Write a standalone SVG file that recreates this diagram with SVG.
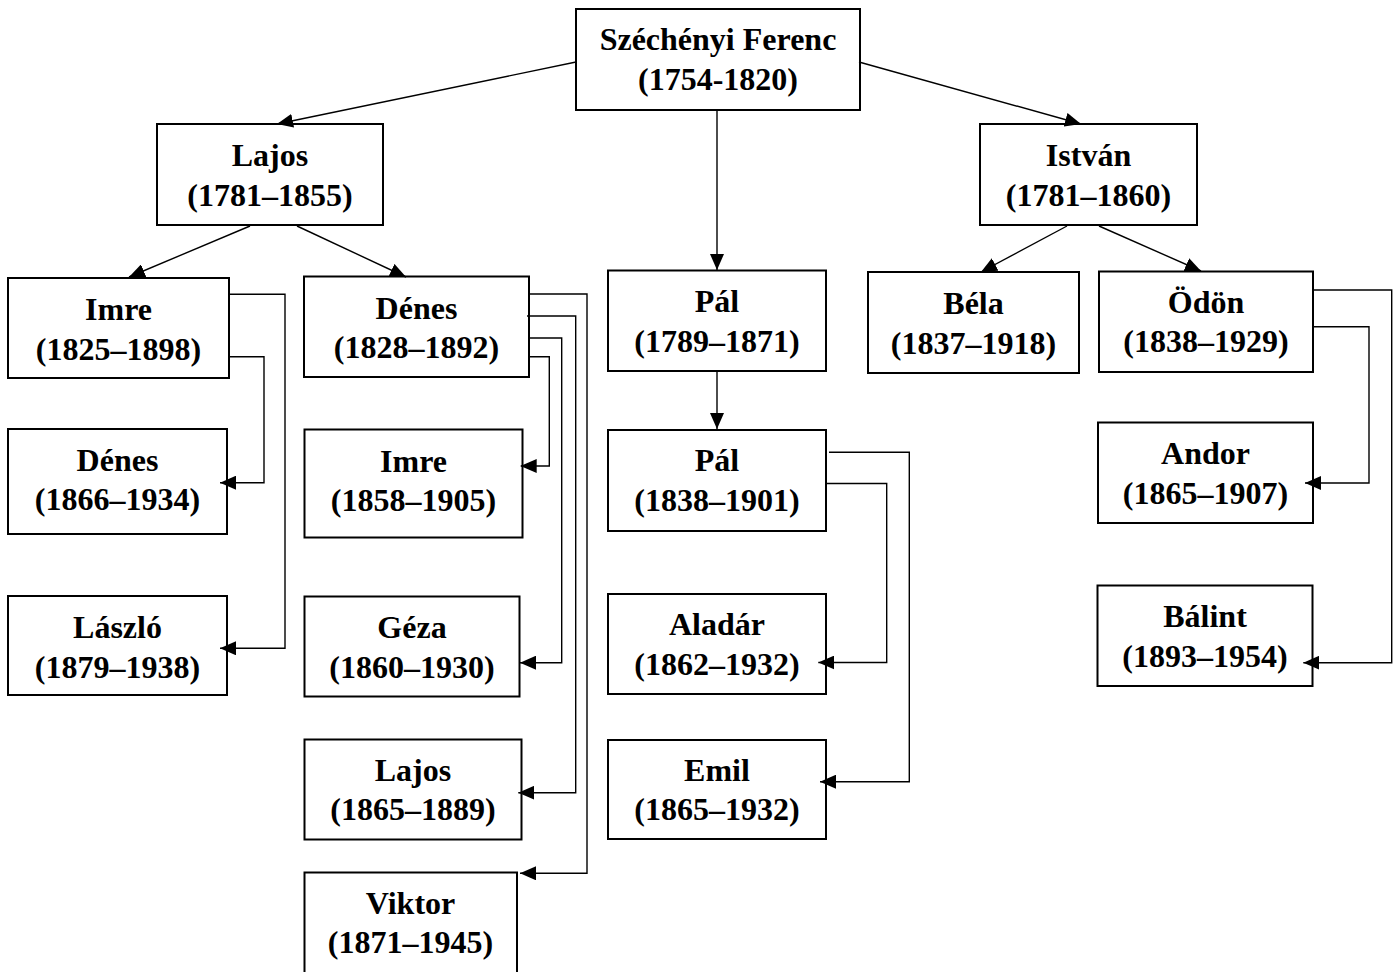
<svg xmlns="http://www.w3.org/2000/svg" width="1395" height="972" viewBox="0 0 1395 972">
<style>
.box{fill:#fff;stroke:#000;stroke-width:2}
.t{font-family:"Liberation Serif","Times New Roman",serif;font-weight:bold;font-size:32px;fill:#000;text-anchor:middle}
.c{fill:none;stroke:#000;stroke-width:1.4}
</style>
<defs>
<marker id="ah" viewBox="0 0 16 14" refX="16" refY="7" markerWidth="16" markerHeight="14" markerUnits="userSpaceOnUse" orient="auto">
<path d="M0,0 L16,7 L0,14 z" fill="#000"/>
</marker>
</defs>
<rect width="1395" height="972" fill="#fff"/>
<g id="n-ferenc"><rect class="box" x="576" y="9" width="284" height="101"/><text class="t" x="718" y="50">Széchényi Ferenc</text><text class="t" x="718" y="90">(1754-1820)</text></g>
<g id="n-lajos"><rect class="box" x="157" y="124" width="226" height="101"/><text class="t" x="270" y="166">Lajos</text><text class="t" x="270" y="206">(1781–1855)</text></g>
<g id="n-istvan"><rect class="box" x="980" y="124" width="217" height="101"/><text class="t" x="1088.5" y="166">István</text><text class="t" x="1088.5" y="206">(1781–1860)</text></g>
<g id="n-imre"><rect class="box" x="8" y="278" width="221" height="100"/><text class="t" x="118.5" y="320">Imre</text><text class="t" x="118.5" y="360">(1825–1898)</text></g>
<g id="n-denes"><rect class="box" x="304" y="276.5" width="225" height="100.5"/><text class="t" x="416.5" y="319">Dénes</text><text class="t" x="416.5" y="358">(1828–1892)</text></g>
<g id="n-pal"><rect class="box" x="608" y="270.5" width="218" height="100.5"/><text class="t" x="717" y="312">Pál</text><text class="t" x="717" y="352">(1789–1871)</text></g>
<g id="n-bela"><rect class="box" x="868" y="272" width="211" height="101"/><text class="t" x="973.5" y="314">Béla</text><text class="t" x="973.5" y="354">(1837–1918)</text></g>
<g id="n-odon"><rect class="box" x="1099" y="271.5" width="214" height="100.5"/><text class="t" x="1206" y="313">Ödön</text><text class="t" x="1206" y="352">(1838–1929)</text></g>
<g id="n-denes2"><rect class="box" x="8" y="429" width="219" height="105"/><text class="t" x="117.5" y="471">Dénes</text><text class="t" x="117.5" y="510">(1866–1934)</text></g>
<g id="n-laszlo"><rect class="box" x="8" y="596" width="219" height="99"/><text class="t" x="117.5" y="638">László</text><text class="t" x="117.5" y="678">(1879–1938)</text></g>
<g id="n-imre2"><rect class="box" x="304.5" y="429.5" width="218" height="108"/><text class="t" x="413.5" y="472">Imre</text><text class="t" x="413.5" y="511">(1858–1905)</text></g>
<g id="n-geza"><rect class="box" x="304.5" y="596.5" width="215" height="100"/><text class="t" x="412" y="638">Géza</text><text class="t" x="412" y="678">(1860–1930)</text></g>
<g id="n-lajos2"><rect class="box" x="304.5" y="739.5" width="217" height="100"/><text class="t" x="413" y="781">Lajos</text><text class="t" x="413" y="820">(1865–1889)</text></g>
<g id="n-viktor"><rect class="box" x="304.5" y="872.5" width="212.5" height="110"/><text class="t" x="410.5" y="914">Viktor</text><text class="t" x="410.5" y="953">(1871–1945)</text></g>
<g id="n-pal2"><rect class="box" x="608" y="430" width="218" height="101"/><text class="t" x="717" y="471">Pál</text><text class="t" x="717" y="511">(1838–1901)</text></g>
<g id="n-aladar"><rect class="box" x="608" y="594" width="218" height="100"/><text class="t" x="717" y="635">Aladár</text><text class="t" x="717" y="675">(1862–1932)</text></g>
<g id="n-emil"><rect class="box" x="608" y="740" width="218" height="99"/><text class="t" x="717" y="781">Emil</text><text class="t" x="717" y="820">(1865–1932)</text></g>
<g id="n-andor"><rect class="box" x="1098" y="422.5" width="215" height="100.5"/><text class="t" x="1205.5" y="464">Andor</text><text class="t" x="1205.5" y="504">(1865–1907)</text></g>
<g id="n-balint"><rect class="box" x="1097.5" y="585.5" width="215" height="100.5"/><text class="t" x="1205" y="627">Bálint</text><text class="t" x="1205" y="667">(1893–1954)</text></g>
<g id="connectors">
<line class="c" x1="576" y1="62" x2="277" y2="124" marker-end="url(#ah)"/>
<line class="c" x1="859" y1="62" x2="1081" y2="124" marker-end="url(#ah)"/>
<line class="c" x1="717" y1="111" x2="717" y2="270" marker-end="url(#ah)"/>
<line class="c" x1="250" y1="226" x2="129" y2="277" marker-end="url(#ah)"/>
<line class="c" x1="297" y1="226" x2="406" y2="277" marker-end="url(#ah)"/>
<line class="c" x1="1067" y1="226" x2="981" y2="272" marker-end="url(#ah)"/>
<line class="c" x1="1099" y1="226" x2="1201" y2="271" marker-end="url(#ah)"/>
<line class="c" x1="717" y1="372" x2="717" y2="429" marker-end="url(#ah)"/>
<polyline class="c" points="230,294.3 285,294.3 285,648.3 220,648.3" marker-end="url(#ah)"/>
<polyline class="c" points="230,356.7 264,356.7 264,482.7 220,482.7" marker-end="url(#ah)"/>
<polyline class="c" points="530,294 587,294 587,873.3 520,873.3" marker-end="url(#ah)"/>
<polyline class="c" points="527,316 575.7,316 575.7,792.7 518.3,792.7" marker-end="url(#ah)"/>
<polyline class="c" points="530,338 561.7,338 561.7,662.7 520,662.7" marker-end="url(#ah)"/>
<polyline class="c" points="530,356.7 549.3,356.7 549.3,466 520.7,466" marker-end="url(#ah)"/>
<polyline class="c" points="829,452.3 909.3,452.3 909.3,781.7 820,781.7" marker-end="url(#ah)"/>
<polyline class="c" points="827,483.5 886.7,483.5 886.7,662.5 818.3,662.5" marker-end="url(#ah)"/>
<polyline class="c" points="1312,290 1391.7,290 1391.7,662.7 1303.3,662.7" marker-end="url(#ah)"/>
<polyline class="c" points="1314,326.7 1369,326.7 1369,483 1305,483" marker-end="url(#ah)"/>
</g>
</svg>
